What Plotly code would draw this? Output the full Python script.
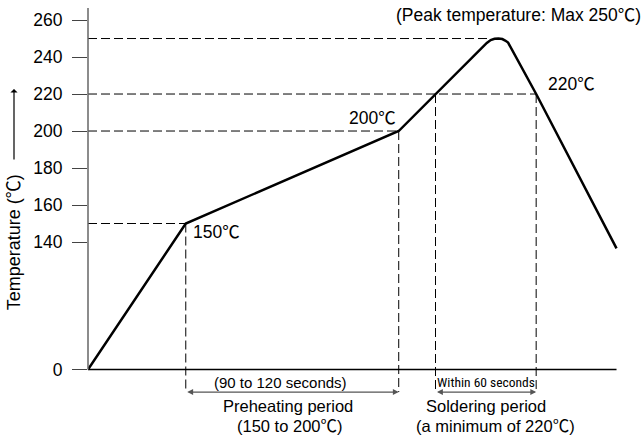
import plotly.graph_objects as go

# Reflow soldering temperature profile (schematic)
time_s = [0, 50.5, 160.5, 179.5, 206, 208, 210, 212, 214, 215.5, 217, 231.5, 273]
temp_c = [0, 150, 200, 220, 247.6, 249.2, 249.9, 250, 249.7, 248.9, 247.8, 220, 133]

y_tick_vals = [0, 140, 160, 180, 200, 220, 240, 260]
y_tick_text = ["0", "140", "160", "180", "200", "220", "240", "260"]

# Guide levels: temperature and the time where the dashed line meets the curve
h_guide_temps = [150, 200, 220, 250]
h_guide_times = [50.5, 160.5, 231.5, 208]
v_guide_times = [50.5, 160.5, 179.5, 231.5]
v_guide_temps = [150, 200, 220, 220]

# Periods marked under the time axis
preheat_span = [50.5, 160.5]
solder_span = [179.5, 231.5]

# Broken temperature scale: 0-140 degC is compressed, 140 degC and above is linear
BREAK = 140.0
LOWER_SCALE = 0.4923


def to_axis(t):
    return t if t >= BREAK else BREAK - (BREAK - t) * LOWER_SCALE


Y_MIN, Y_MAX = 34.05, 266.5
ROW = 58.9  # level of the period arrows below the baseline

FONT = "Liberation Sans, Arial, Noto Sans CJK JP, sans-serif"
NARROW = "Liberation Sans Narrow, Arial Narrow, Roboto Condensed, Liberation Sans, sans-serif"

fig = go.Figure()
fig.add_trace(go.Scatter(
    x=time_s, y=[to_axis(t) for t in temp_c], mode="lines",
    line=dict(color="black", width=2.5), hoverinfo="skip",
))

shapes = []
dash = dict(color="black", width=1, dash="9px,4px")
for t, x_end in zip(h_guide_temps, h_guide_times):
    shapes.append(dict(type="line", xref="x", yref="y", x0=0, x1=x_end,
                       y0=to_axis(t), y1=to_axis(t), line=dash, layer="below"))
for x, t in zip(v_guide_times, v_guide_temps):
    shapes.append(dict(type="line", xref="x", yref="y", x0=x, x1=x,
                       y0=to_axis(t), y1=ROW, line=dash, layer="below"))
# time baseline and temperature axis line
shapes.append(dict(type="line", xref="x", yref="y", x0=0, x1=time_s[-1],
                   y0=to_axis(0), y1=to_axis(0), line=dict(color="black", width=1.5)))
shapes.append(dict(type="line", xref="paper", yref="y", x0=0, x1=0,
                   y0=to_axis(0), y1=Y_MAX, line=dict(color="#666", width=1.5)))

ann = []
# double-headed period arrows
for a, b in (preheat_span, solder_span):
    ann.append(dict(x=b, y=ROW, ax=a, ay=ROW, xref="x", yref="y", axref="x", ayref="y",
                    text="", showarrow=True, arrowside="end+start", arrowhead=2,
                    arrowsize=0.9, arrowwidth=1.3, arrowcolor="#555"))


def label(text, x, y, size=17.5, xanchor="center", xshift=0, yshift=0, font=FONT,
          xref="x", yref="y"):
    ann.append(dict(x=x, y=y, xref=xref, yref=yref, text=text, showarrow=False,
                    xanchor=xanchor, yanchor="middle", xshift=xshift, yshift=yshift,
                    font=dict(family=font, size=size, color="black")))


pre_mid = sum(preheat_span) / 2
sol_mid = sum(solder_span) / 2
label("(90 to 120 seconds)", pre_mid, ROW, size=15, xshift=-12, yshift=10)
label("Preheating period", pre_mid, ROW, size=16.5, xshift=-4, yshift=-14)
label("(150 to 200℃)", pre_mid, ROW, size=16.5, xshift=-3, yshift=-34)
label("Within 60 seconds", sol_mid, ROW, size=13.5, yshift=10, font=NARROW)
label("Soldering period", sol_mid, ROW, size=16.5, yshift=-14)
label("(a minimum of 220℃)", sol_mid, ROW, size=16.5, xshift=10, yshift=-34)

label("150℃", 50.5, to_axis(150), xanchor="left", xshift=5, yshift=-8)
label("200℃", 160.5, to_axis(200), xanchor="right", xshift=-1, yshift=13)
label("220℃", 231.5, to_axis(220), xanchor="left", xshift=10, yshift=10)
label("(Peak temperature: Max 250℃)", 1.0, 1.0, xanchor="right", xref="paper",
      yref="paper", xshift=23, yshift=-7)

# temperature axis title with upward arrow
ann.append(dict(x=0, y=0.455, xref="paper", yref="paper", text="Temperature (℃)",
                textangle=-90, showarrow=False, xanchor="center", yanchor="middle",
                xshift=-74, font=dict(family=FONT, size=18, color="black")))
ann.append(dict(x=0, y=0.8116, xref="paper", yref="paper", text="", showarrow=True,
                ax=0, ay=72, xshift=-74, arrowhead=1, arrowsize=1, arrowwidth=1.2,
                arrowcolor="black"))

fig.update_layout(
    width=643, height=438,
    margin=dict(l=88, r=23, t=8, b=0),
    paper_bgcolor="white", plot_bgcolor="white",
    showlegend=False,
    shapes=shapes, annotations=ann,
    font=dict(family=FONT, color="black"),
    xaxis=dict(range=[0, 274.8], visible=False),
    yaxis=dict(range=[Y_MIN, Y_MAX], tickvals=[to_axis(v) for v in y_tick_vals],
               ticktext=y_tick_text, ticks="outside", ticklen=15, tickwidth=1.2,
               tickcolor="#444", showline=False, showgrid=False, zeroline=False,
               tickfont=dict(family=FONT, size=17.5, color="black"),
               ticklabelstandoff=6),
)

fig.write_html("out.html")
